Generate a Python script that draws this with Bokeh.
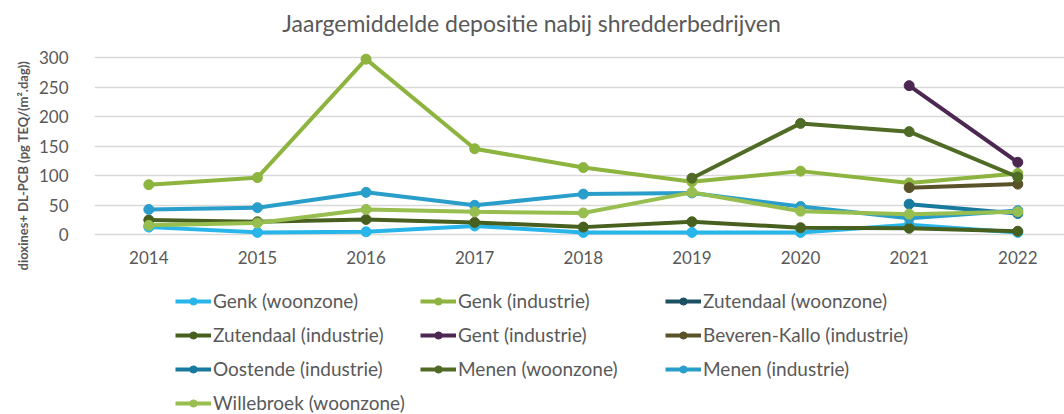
from math import pi
from bokeh.plotting import figure
from bokeh.layouts import column
from bokeh.models import Legend, LegendItem, FixedTicker, Label, Range1d, ColumnDataSource, Title
from bokeh.embed import file_html
from bokeh.resources import INLINE

nan = float("nan")

years = [2014, 2015, 2016, 2017, 2018, 2019, 2020, 2021, 2022]
year_labels = ["2014", "2015", "2016", "2017", "2018", "2019", "2020", "2021", "2022"]
y_ticks = [0, 50, 100, 150, 200, 250, 300]

genk_woonzone = [13, 4, 5, 15, 4, 4, 4, 17, 4]
genk_industrie = [85, 97, 298, 146, 114, 90, 108, 88, 104]
zutendaal_woonzone = [nan, nan, nan, nan, nan, nan, nan, nan, nan]
zutendaal_industrie = [25, 22, 26, 21, 13, 22, 12, 11, 6]
gent_industrie = [nan, nan, nan, nan, nan, nan, nan, 253, 123]
beveren_industrie = [nan, nan, nan, nan, nan, nan, nan, 80, 86]
oostende_industrie = [nan, nan, nan, nan, nan, nan, nan, 52, 36]
menen_woonzone = [nan, nan, nan, nan, nan, 96, 189, 175, 98]
menen_industrie = [43, 46, 72, 50, 69, 71, 48, 28, 41]
willebroek_woonzone = [16, 20, 43, 39, 37, 72, 40, 35, 39]

series_names = [
    "Genk (woonzone)", "Genk (industrie)", "Zutendaal (woonzone)",
    "Zutendaal (industrie)", "Gent (industrie)", "Beveren-Kallo (industrie)",
    "Oostende (industrie)", "Menen (woonzone)", "Menen (industrie)",
    "Willebroek (woonzone)",
]
series_values = [
    genk_woonzone, genk_industrie, zutendaal_woonzone, zutendaal_industrie,
    gent_industrie, beveren_industrie, oostende_industrie, menen_woonzone,
    menen_industrie, willebroek_woonzone,
]
series_colors = [
    "#27B5EA", "#8DB43E", "#1B4F61", "#48601F", "#4B2752",
    "#5A5228", "#17799E", "#4F6B25", "#2A9ECB", "#97BE4F",
]

title_text = "Jaargemiddelde depositie nabij shredderbedrijven"
ylabel_text = "dioxines+ DL-PCB (pg TEQ/(m\u00b2.dag))"

FONT = "Lato"
TXT = "#595959"

# ---- main chart: frame left 94, right 1064, top 0, bottom 239
p = figure(width=1064, height=289, output_backend="svg", toolbar_location=None,
           x_range=Range1d(2013.5, 2022.43), y_range=Range1d(-8, 397.5),
           min_border_left=94, min_border_right=0, min_border_top=0,
           min_border_bottom=50)

p.outline_line_color = None
p.background_fill_color = "white"
p.border_fill_color = "white"

p.xgrid.grid_line_color = None
p.ygrid.grid_line_color = "#D9D9D9"
p.ygrid.grid_line_width = 1.3
p.yaxis.ticker = FixedTicker(ticks=y_ticks)
p.xaxis.ticker = FixedTicker(ticks=years)
p.xaxis.major_label_overrides = {y: s for y, s in zip(years, year_labels)}

for ax in (p.xaxis[0], p.yaxis[0]):
    ax.axis_line_color = None
    ax.major_tick_line_color = None
    ax.minor_tick_line_color = None
    ax.major_label_text_font = FONT
    ax.major_label_text_font_size = "17px"
    ax.major_label_text_color = TXT
p.yaxis.major_label_standoff = 20
p.xaxis.major_label_standoff = 5

# ---- legend strip below
q = figure(width=1064, height=125, output_backend="svg", toolbar_location=None,
           x_range=Range1d(0, 1), y_range=Range1d(0, 1), min_border=0,
           min_border_left=94, min_border_right=0, min_border_top=0,
           min_border_bottom=0)
q.axis.visible = False
q.grid.visible = False
q.outline_line_color = None
q.background_fill_color = "white"
q.border_fill_color = "white"

items = []
for name, vals, col in zip(series_names, series_values, series_colors):
    src = ColumnDataSource(data=dict(x=years, y=vals))
    p.line("x", "y", source=src, line_color=col, line_width=4)
    p.scatter("x", "y", source=src, size=10, fill_color=col, line_color=col)
    # same series in the legend strip (outside its visible range)
    r1 = q.line("x", "y", source=src, line_color=col, line_width=4)
    r2 = q.scatter("x", "y", source=src, size=9, fill_color=col, line_color=col)
    items.append(LegendItem(label=name, renderers=[r1, r2]))

legend = Legend(items=items, orientation="horizontal", ncols=3,
                location=(81, 0), glyph_width=36, glyph_height=18,
                label_height=18, label_width=196, label_standoff=2,
                spacing=11, padding=0, margin=0, label_text_font=FONT,
                label_text_font_size="19px", label_text_color=TXT,
                background_fill_alpha=0, border_line_alpha=0)
q.add_layout(legend, "center")

# chart title
title = Label(x=437, y=217, x_units="screen", y_units="screen", text=title_text,
              text_font=FONT, text_font_size="23px", text_color=TXT,
              text_align="center", text_baseline="middle")
p.add_layout(title)

ytitle = Title(text=ylabel_text, align="left", offset=-31, standoff=10,
               text_font=FONT, text_font_size="13px", text_font_style="bold",
               text_color=TXT)
p.add_layout(ytitle, "left")

layout = column(p, q, spacing=0)
open("out.html", "w").write(file_html(layout, INLINE))
